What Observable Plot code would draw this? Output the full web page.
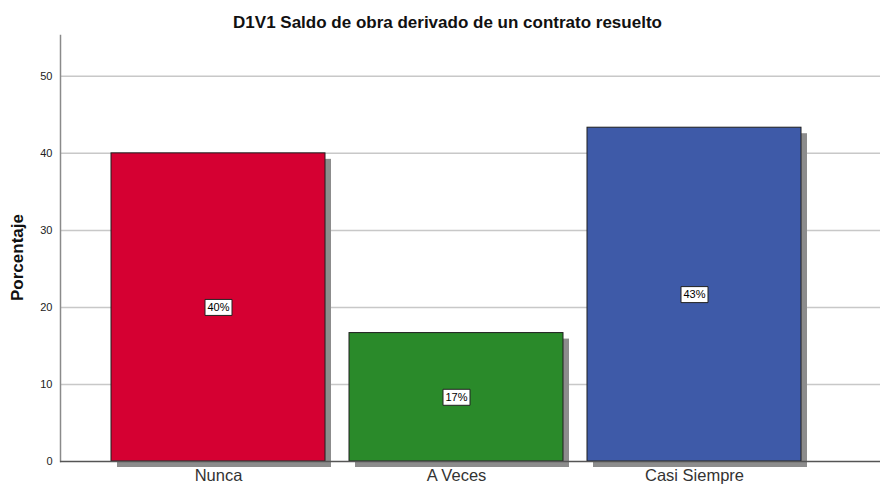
<!DOCTYPE html>
<html>
<head>
<meta charset="utf-8">
<script src="https://cdn.jsdelivr.net/npm/d3@7"></script>
<script src="https://cdn.jsdelivr.net/npm/@observablehq/plot@0.6"></script>
<style>
  html, body { margin: 0; padding: 0; background: #fff; }
  svg { font-family: "Liberation Sans", Arial, sans-serif; }
</style>
</head>
<body>
<div id="chart"></div>
<script>
const title = "D1V1 Saldo de obra derivado de un contrato resuelto";
const yLabel = "Porcentaje";
const categories = ["Nunca", "A Veces", "Casi Siempre"];
const percents = [40.0, 16.67, 43.33];
const valueLabels = ["40%", "17%", "43%"];
const barColors = ["#d50032", "#2a8a2a", "#3e5aa8"];
const yTicks = [0, 10, 20, 30, 40, 50];
const gridTicks = [10, 20, 30, 40, 50];

const data = categories.map((c, i) => ({cat: c, value: percents[i], label: valueLabels[i]}));

const boxSymbol = {
  draw(ctx) { ctx.rect(-13.5, -8, 27, 16); }
};

const chart = Plot.plot({
  width: 881,
  height: 486,
  marginTop: 35,
  marginBottom: 25,
  marginLeft: 60,
  marginRight: 1,
  style: {fontFamily: "'Liberation Sans', Arial, sans-serif", background: "#fff"},
  x: {domain: categories, range: [99, 813], paddingInner: 0.1, paddingOuter: 0.05, label: null},
  y: {domain: [0, 55.3], label: null},
  color: {domain: categories, range: barColors},
  marks: [
    Plot.gridY(gridTicks, {stroke: "#c8c8c8", strokeOpacity: 1, strokeWidth: 1.5}),
    Plot.axisY(yTicks, {tickSize: 0, tickPadding: 8, fontSize: 11, fill: "#222", label: null}),
    Plot.frame({anchor: "left", stroke: "#8a8a8a", strokeWidth: 1.5}),
    Plot.barY(data, {x: "cat", y: "value", fill: "#8c8c8c", dx: 6, dy: 6}),
    Plot.barY(data, {x: "cat", y: "value", fill: "cat", stroke: "#1e1e1e", strokeWidth: 1}),
    Plot.ruleY([0], {stroke: "#555", strokeWidth: 1.5}),
    Plot.dot(data, {x: "cat", y: d => d.value / 2, symbol: boxSymbol, fill: "#fff", stroke: "#222", strokeWidth: 1}),
    Plot.text(data, {x: "cat", y: d => d.value / 2, text: "label", fontSize: 11, fill: "#000"}),
    Plot.axisX({tickSize: 0, tickPadding: 8, fontSize: 16.5, fill: "#333", label: null}),
    Plot.text([yLabel], {frameAnchor: "left", textAnchor: "middle", rotate: -90, dx: -43, dy: 9, fontSize: 17, fontWeight: "bold", fill: "#111"}),
    Plot.text([title], {frameAnchor: "top", lineAnchor: "bottom", dy: -8, dx: -23, fontSize: 17, fontWeight: "bold", fill: "#111"})
  ]
});

document.getElementById("chart").appendChild(chart);
</script>
</body>
</html>
